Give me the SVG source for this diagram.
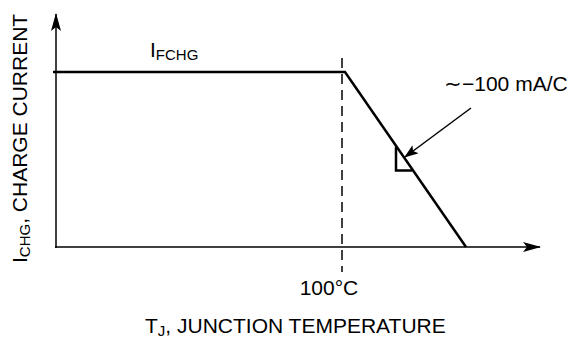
<svg xmlns="http://www.w3.org/2000/svg" width="578" height="341" viewBox="0 0 578 341">
<style>
.ax{stroke:#000;stroke-width:1.5;fill:none}
.curve{stroke:#000;stroke-width:2.5;fill:none}
.t{font-family:"Liberation Sans",Arial,sans-serif;font-size:21px;fill:#000}
</style>
<defs>
<marker id="ah" markerWidth="18" markerHeight="10" refX="17" refY="5" orient="auto" markerUnits="userSpaceOnUse">
<path d="M0,0 L18,5 L0,10 L4,5 Z" fill="#000"/>
</marker>
<marker id="ah2" markerWidth="14" markerHeight="10" refX="13" refY="5" orient="auto" markerUnits="userSpaceOnUse">
<path d="M0,0 L14,5 L0,10 L3,5 Z" fill="#000"/>
</marker>
</defs>
<g id="connectors">
<line class="ax" x1="56" y1="248" x2="56" y2="14" marker-end="url(#ah)"/>
<line class="ax" x1="55" y1="247" x2="540" y2="247" marker-end="url(#ah)"/>
<line class="ax" x1="342" y1="58" x2="342" y2="272" stroke-dasharray="10,6"/>
<polyline class="curve" points="53,72 345,72 466,247"/>
<polyline class="curve" points="396,147 396,170.5 412,170.5"/>
<line class="ax" x1="471" y1="108" x2="405" y2="157" marker-end="url(#ah2)"/>
</g>
<g id="label-ifchg"><text class="t" x="150" y="57">I<tspan font-size="15" dy="3">FCHG</tspan></text></g>
<g id="label-slope"><text class="t" x="444" y="91">∼−100 mA/C</text></g>
<g id="label-100c"><text class="t" x="329" y="295" text-anchor="middle">100°C</text></g>
<g id="label-x"><text class="t" x="145" y="333">T<tspan font-size="15" dy="3">J</tspan><tspan dy="-3">, JUNCTION TEMPERATURE</tspan></text></g>
<g id="label-y"><text class="t" transform="translate(27,263) rotate(-90)">I<tspan font-size="15" dy="3">CHG</tspan><tspan dy="-3">, CHARGE CURRENT</tspan></text></g>
</svg>
